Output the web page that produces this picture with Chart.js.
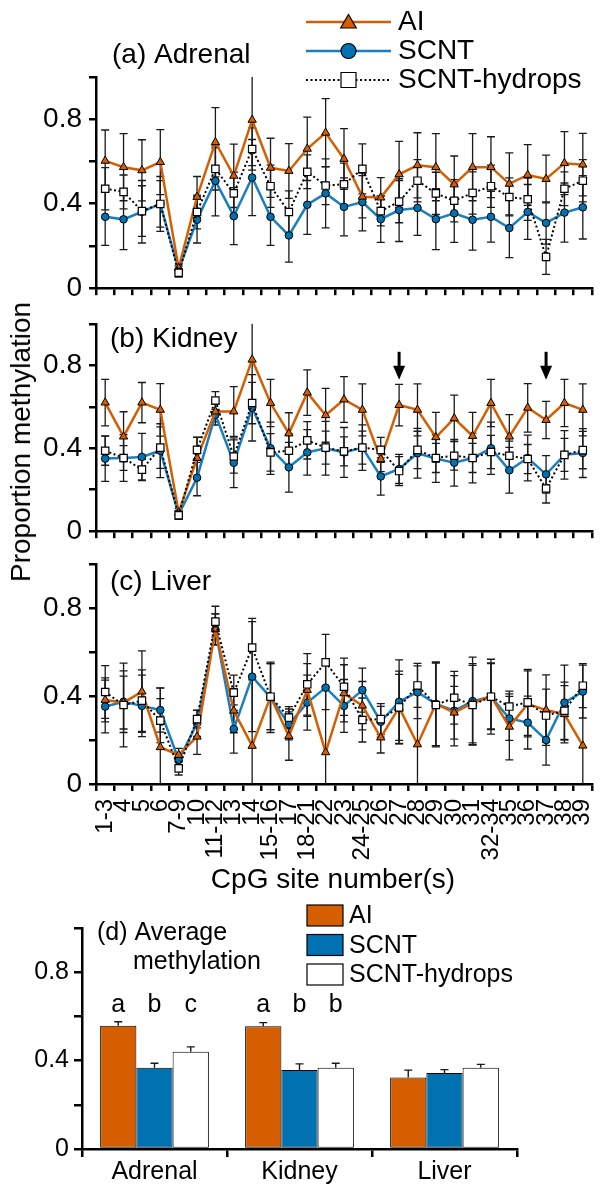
<!DOCTYPE html>
<html><head><meta charset="utf-8">
<script src="https://cdn.jsdelivr.net/npm/chart.js@4.4.0/dist/chart.umd.min.js"></script>
<style>
html,body{margin:0;padding:0;background:#fff;}
#wrap{position:relative;width:600px;height:1185px;overflow:hidden;font-family:'Liberation Sans',Arial,Helvetica,sans-serif;background:#fff;}
canvas{position:absolute;left:0;}
#ytitle{position:absolute;left:21px;top:442px;transform:translate(-50%,-50%) rotate(-90deg);font-size:28px;white-space:nowrap;color:#000;line-height:1;}
</style></head><body>
<div id="wrap">
<canvas id="cA" style="top:0px" width="600" height="312"></canvas>
<canvas id="cB" style="top:300px" width="600" height="255"></canvas>
<canvas id="cC" style="top:540px" width="600" height="361"></canvas>
<canvas id="cD" style="top:895px" width="600" height="290"></canvas>
<div id="ytitle">Proportion methylation</div>
</div>
<script>
// ---------- DATA ----------
const categories = ['1-3','4','5','6','7-9','10','11-12','13','14','15-16','17','18-21','22','23','24-25','26','27','28','29','30','31','32-34','35','36','37','38','39'];
const seriesNames = ['AI','SCNT','SCNT-hydrops'];
const yTickLabels = ['0','','0.4','','0.8',''];

// (a) Adrenal
const adrenalAI  = [0.603,0.573,0.558,0.597,0.095,0.432,0.691,0.532,0.797,0.570,0.555,0.660,0.736,0.612,0.433,0.429,0.539,0.582,0.573,0.491,0.573,0.573,0.494,0.536,0.517,0.592,0.585];
const adrenalSC  = [0.338,0.326,0.362,0.399,0.085,0.324,0.508,0.341,0.524,0.338,0.250,0.395,0.449,0.385,0.408,0.327,0.370,0.380,0.327,0.355,0.324,0.338,0.285,0.361,0.309,0.358,0.383];
const adrenalHY  = [0.471,0.456,0.365,0.399,0.073,0.361,0.565,0.449,0.659,0.483,0.361,0.551,0.486,0.492,0.565,0.365,0.410,0.509,0.449,0.414,0.451,0.483,0.432,0.421,0.148,0.471,0.509];
const adrenalAIerr = [0.146,0.159,0.145,0.154,0.02,0.097,0.164,0.15,0.217,0.14,0.13,0.15,0.162,0.144,0.10,0.095,0.156,0.154,0.159,0.135,0.159,0.144,0.147,0.144,0.113,0.149,0.148];
const adrenalSCerr = [0.135,0.143,0.148,0.11,0.02,0.11,0.166,0.135,0.18,0.135,0.127,0.14,0.163,0.137,0.137,0.11,0.149,0.13,0.144,0.138,0.144,0.12,0.14,0.13,0.1,0.14,0.15];
const adrenalHYerr = [0.10,0.08,0.12,0.13,0.02,0.08,0.1,0.1,0.1,0.1,0.1,0.08,0.09,0.1,0.118,0.07,0.1,0.1,0.1,0.1,0.1,0.1,0.09,0.1,0.083,0.08,0.1];

// (b) Kidney
const kidneyAI = [0.62,0.456,0.62,0.585,0.09,0.353,0.577,0.577,0.827,0.618,0.471,0.668,0.559,0.635,0.585,0.347,0.608,0.585,0.453,0.544,0.459,0.618,0.456,0.595,0.536,0.618,0.585];
const kidneySC = [0.35,0.353,0.358,0.388,0.08,0.258,0.562,0.33,0.595,0.40,0.308,0.38,0.40,0.38,0.403,0.264,0.30,0.376,0.35,0.33,0.353,0.40,0.294,0.353,0.274,0.368,0.377];
const kidneyHY = [0.388,0.353,0.297,0.403,0.077,0.392,0.63,0.36,0.618,0.38,0.388,0.438,0.403,0.385,0.403,0.392,0.29,0.392,0.353,0.364,0.353,0.382,0.364,0.348,0.206,0.368,0.391];
const kidneyAIerr = [0.112,0.12,0.097,0.127,0.02,0.1,0.05,0.12,0.2,0.114,0.1,0.11,0.13,0.11,0.125,0.06,0.1,0.125,0.12,0.112,0.114,0.114,0.106,0.117,0.09,0.114,0.125];
const kidneySCerr = [0.11,0.113,0.114,0.13,0.02,0.087,0.05,0.12,0.16,0.126,0.12,0.11,0.13,0.12,0.11,0.09,0.07,0.12,0.115,0.113,0.12,0.126,0.11,0.11,0.09,0.117,0.118];
const kidneyHYerr = [0.07,0.06,0.05,0.1,0.02,0.06,0.043,0.08,0.1,0.09,0.08,0.09,0.08,0.07,0.08,0.06,0.07,0.09,0.07,0.07,0.07,0.08,0.07,0.07,0.07,0.08,0.09];
const arrowSites = ['27','37'];

// (c) Liver
const liverAI = [0.382,0.37,0.42,0.167,0.132,0.215,0.703,0.333,0.173,0.397,0.218,0.427,0.144,0.412,0.356,0.211,0.348,0.18,0.364,0.324,0.367,0.40,0.26,0.364,0.336,0.317,0.174];
const liverSC = [0.352,0.374,0.355,0.336,0.109,0.276,0.703,0.25,0.488,0.394,0.271,0.37,0.438,0.355,0.427,0.283,0.374,0.417,0.364,0.333,0.377,0.397,0.298,0.279,0.2,0.37,0.42];
const liverHY = [0.418,0.359,0.379,0.288,0.071,0.295,0.738,0.415,0.62,0.397,0.302,0.453,0.553,0.442,0.291,0.295,0.348,0.448,0.359,0.392,0.359,0.397,0.352,0.371,0.311,0.333,0.447];
const liverAIerr = [0.1,0.12,0.185,0.27,0.03,0.08,0.07,0.1,0.30,0.15,0.11,0.12,0.30,0.13,0.11,0.07,0.165,0.25,0.19,0.12,0.18,0.15,0.15,0.15,0.16,0.13,0.25];
const liverSCerr = [0.12,0.14,0.14,0.1,0.03,0.06,0.07,0.11,0.25,0.16,0.07,0.125,0.1,0.12,0.1,0.07,0.19,0.12,0.19,0.16,0.2,0.17,0.1,0.12,0.114,0.17,0.12];
const liverHYerr = [0.12,0.19,0.14,0.1,0.03,0.04,0.07,0.08,0.133,0.15,0.05,0.14,0.127,0.13,0.1,0.07,0.15,0.1,0.19,0.12,0.18,0.15,0.07,0.15,0.12,0.13,0.1];

// (d) Average methylation
const tissues = ['Adrenal','Kidney','Liver'];
const avgAI = [0.558,0.555,0.324];
const avgSC = [0.368,0.357,0.344];
const avgHY = [0.440,0.368,0.368];
const avgAIerr = [0.018,0.017,0.033];
const avgSCerr = [0.020,0.028,0.015];
const avgHYerr = [0.022,0.020,0.015];
const lettersAI = ['a','a',''];
const lettersSC = ['b','b',''];
const lettersHY = ['c','b',''];

// ---------- STYLE ----------
const FONT = "'Liberation Sans', Arial, Helvetica, sans-serif";
const ORANGE = '#D55E00';
const BLUE = '#0072B2';
const LINEBLUE = '#1a7fc1';
Chart.defaults.font.family = FONT;
Chart.defaults.color = '#000';
Chart.defaults.animation = false;

// ---------- PLUGINS ----------
const errorPlugin = {
  id: 'errBars',
  beforeDatasetsDraw(chart, args, opts) {
    const ctx = chart.ctx, ca = chart.chartArea, ys = chart.scales.y;
    ctx.save();
    ctx.strokeStyle = '#1a1a1a';
    ctx.lineWidth = 1.3;
    const cap = 4;
    chart.data.datasets.forEach((ds, di) => {
      if (!ds.errors) return;
      const meta = chart.getDatasetMeta(di);
      meta.data.forEach((el, i) => {
        const v = ds.data[i], e = ds.errors[i];
        if (e == null) return;
        const x = el.x;
        let yTop = ys.getPixelForValue(v + e);
        let yBot = ys.getPixelForValue(v - e);
        const topClipped = yTop < ca.top, botClipped = yBot > ca.bottom;
        yTop = Math.max(yTop, ca.top); yBot = Math.min(yBot, ca.bottom);
        ctx.beginPath();
        ctx.moveTo(x, yTop); ctx.lineTo(x, yBot);
        if (!topClipped) { ctx.moveTo(x - cap, yTop); ctx.lineTo(x + cap, yTop); }
        if (!botClipped) { ctx.moveTo(x - cap, yBot); ctx.lineTo(x + cap, yBot); }
        ctx.stroke();
      });
    });
    ctx.restore();
  }
};

const textPlugin = {
  id: 'panelText',
  afterDraw(chart, args, opts) {
    const ctx = chart.ctx, ca = chart.chartArea;
    (opts.items || []).forEach(it => {
      ctx.save();
      ctx.font = it.size + 'px ' + FONT;
      ctx.fillStyle = '#000';
      ctx.textAlign = it.align || 'left';
      ctx.textBaseline = 'middle';
      ctx.fillText(it.text, ca.left + it.dx, ca.top + it.dy);
      ctx.restore();
    });
  }
};

function drawMarker(ctx, type, x, y, r, fill) {
  ctx.save();
  ctx.fillStyle = fill; ctx.strokeStyle = '#000'; ctx.lineWidth = 1.2; ctx.setLineDash([]);
  ctx.beginPath();
  if (type === 'triangle') {
    ctx.moveTo(x, y - r);
    ctx.lineTo(x + r * 0.866, y + r * 0.5);
    ctx.lineTo(x - r * 0.866, y + r * 0.5);
    ctx.closePath();
  } else if (type === 'circle') {
    ctx.arc(x, y, r, 0, Math.PI * 2);
  } else {
    ctx.rect(x - r, y - r, 2 * r, 2 * r);
  }
  ctx.fill(); ctx.stroke();
  ctx.restore();
}

const lineLegendPlugin = {
  id: 'lineLegend',
  afterDraw(chart, args, opts) {
    if (!opts.show) return;
    const ctx = chart.ctx;
    const styles = [
      {color: ORANGE, dash: [], marker: 'triangle', r: 9, fill: ORANGE, w: 2.5},
      {color: LINEBLUE, dash: [], marker: 'circle', r: 7.5, fill: BLUE, w: 2.5},
      {color: '#000', dash: [2, 2.5], marker: 'rect', r: 7.5, fill: '#fff', w: 2}
    ];
    seriesNames.forEach((name, i) => {
      const y = opts.y0 + i * opts.dy, s = styles[i];
      ctx.save();
      ctx.strokeStyle = s.color; ctx.lineWidth = s.w; ctx.setLineDash(s.dash);
      ctx.beginPath(); ctx.moveTo(opts.x0, y); ctx.lineTo(opts.x1, y); ctx.stroke();
      ctx.restore();
      drawMarker(ctx, s.marker, (opts.x0 + opts.x1) / 2, y + (s.marker === 'triangle' ? 1.5 : 0), s.r, s.fill);
      ctx.save();
      ctx.font = opts.size + 'px ' + FONT; ctx.fillStyle = '#000';
      ctx.textAlign = 'left'; ctx.textBaseline = 'middle';
      ctx.fillText(name, opts.tx, y);
      ctx.restore();
    });
  }
};

const arrowPlugin = {
  id: 'arrows',
  afterDatasetsDraw(chart, args, opts) {
    if (!opts.sites) return;
    const ctx = chart.ctx, xs = chart.scales.x, ys = chart.scales.y;
    opts.sites.forEach(site => {
      const idx = categories.indexOf(site);
      const x = xs.getPixelForValue(idx);
      const y0 = ys.getPixelForValue(opts.from), y1 = ys.getPixelForValue(opts.to);
      const head = 14;
      ctx.save();
      ctx.strokeStyle = '#000'; ctx.fillStyle = '#000'; ctx.lineWidth = 3;
      ctx.beginPath(); ctx.moveTo(x, y0); ctx.lineTo(x, y1 - head + 1); ctx.stroke();
      ctx.beginPath(); ctx.moveTo(x - 6, y1 - head); ctx.lineTo(x + 6, y1 - head); ctx.lineTo(x, y1); ctx.closePath(); ctx.fill();
      ctx.restore();
    });
  }
};

const barExtrasPlugin = {
  id: 'barExtras',
  afterDatasetsDraw(chart, args, opts) {
    const ctx = chart.ctx, ys = chart.scales.y;
    ctx.save();
    ctx.strokeStyle = '#1a1a1a'; ctx.lineWidth = 1.4;
    chart.data.datasets.forEach((ds, di) => {
      const meta = chart.getDatasetMeta(di);
      meta.data.forEach((el, i) => {
        const v = ds.data[i], e = ds.errors[i];
        const x = el.x, yTop = ys.getPixelForValue(v + e), yB = ys.getPixelForValue(v);
        ctx.beginPath(); ctx.moveTo(x, yB); ctx.lineTo(x, yTop);
        ctx.moveTo(x - 4, yTop); ctx.lineTo(x + 4, yTop); ctx.stroke();
        if (ds.letters && ds.letters[i]) {
          ctx.save();
          ctx.font = opts.letterSize + 'px ' + FONT; ctx.fillStyle = '#000';
          ctx.textAlign = 'center'; ctx.textBaseline = 'middle';
          ctx.fillText(ds.letters[i], x, ys.getPixelForValue(opts.letterY));
          ctx.restore();
        }
      });
    });
    ctx.restore();
    // legend
    const boxes = [{fill: ORANGE}, {fill: BLUE}, {fill: '#fff'}];
    seriesNames.forEach((name, i) => {
      const y = opts.legY0 + i * opts.legDy;
      ctx.save();
      ctx.fillStyle = boxes[i].fill; ctx.strokeStyle = '#000'; ctx.lineWidth = 1.2;
      ctx.fillRect(opts.legX, y - 10.5, 36, 21); ctx.strokeRect(opts.legX, y - 10.5, 36, 21);
      ctx.font = opts.legSize + 'px ' + FONT; ctx.fillStyle = '#000';
      ctx.textAlign = 'left'; ctx.textBaseline = 'middle';
      ctx.fillText(name, opts.legX + 42, y + 1);
      ctx.restore();
    });
  }
};

// ---------- BUILDERS ----------
function yAxis(fontSize, tickLen, pad, width) {
  return {
    min: 0, max: 1,
    border: {display: true, color: '#000', width: 2.5},
    grid: {drawOnChartArea: false, drawTicks: true, tickLength: tickLen, color: '#000', lineWidth: 2.5},
    ticks: {stepSize: 0.2, autoSkip: false, padding: pad, font: {size: fontSize}, color: '#000',
            callback: (v, i) => yTickLabels[i]},
    afterFit: s => { s.width = width; }
  };
}

function lineDatasets(ai, sc, hy, aiE, scE, hyE) {
  return [
    {label: seriesNames[0], data: ai, errors: aiE, borderColor: ORANGE, backgroundColor: ORANGE,
     pointStyle: 'triangle', pointRadius: 4.8, pointBackgroundColor: ORANGE, pointBorderColor: '#000',
     pointBorderWidth: 1, borderWidth: 2.5, tension: 0, order: 2},
    {label: seriesNames[1], data: sc, errors: scE, borderColor: LINEBLUE, backgroundColor: BLUE,
     pointStyle: 'circle', pointRadius: 3.8, pointBackgroundColor: BLUE, pointBorderColor: '#000',
     pointBorderWidth: 1, borderWidth: 2.5, tension: 0, order: 3},
    {label: seriesNames[2], data: hy, errors: hyE, borderColor: '#000', backgroundColor: '#fff',
     borderDash: [2, 2.5], pointStyle: 'rect', pointRadius: 5.2, pointBackgroundColor: '#fff',
     pointBorderColor: '#000', pointBorderWidth: 1.2, borderWidth: 2, tension: 0, order: 1}
  ];
}

function lineChart(id, datasets, padding, showLabels, xHeight, pluginOpts) {
  return new Chart(document.getElementById(id), {
    type: 'line',
    data: {labels: categories, datasets},
    options: {
      responsive: false, animation: false,
      layout: {padding},
      plugins: Object.assign({legend: {display: false}, tooltip: {enabled: false}}, pluginOpts),
      scales: {
        x: {type: 'category', offset: true,
            grid: {offset: true, drawOnChartArea: false, drawTicks: true, tickLength: 7, color: '#000', lineWidth: 2.5},
            border: {display: true, color: '#000', width: 2.5},
            ticks: {display: showLabels, autoSkip: false, maxRotation: 90, minRotation: 90, padding: 8,
                    font: {size: 24}, color: '#000'},
            afterFit: s => { s.height = xHeight; s.paddingLeft = 0; s.paddingRight = 0; }},
        y: yAxis(28, 7, 7, 96)
      }
    },
    plugins: [errorPlugin, textPlugin, lineLegendPlugin, arrowPlugin]
  });
}

// (a)
lineChart('cA', lineDatasets(adrenalAI, adrenalSC, adrenalHY, adrenalAIerr, adrenalSCerr, adrenalHYerr),
  {top: 77, bottom: 5, left: 0, right: 8}, false, 10,
  {panelText: {items: [{text: '(a) Adrenal', dx: 16, dy: -22, size: 28}]},
   lineLegend: {show: true, x0: 306, x1: 391, tx: 398, y0: 22, dy: 29, size: 28}});

// (b)
lineChart('cB', lineDatasets(kidneyAI, kidneySC, kidneyHY, kidneyAIerr, kidneySCerr, kidneyHYerr),
  {top: 22, bottom: 3, left: 0, right: 8}, false, 10,
  {panelText: {items: [{text: '(b) Kidney', dx: 14, dy: 15, size: 28}]},
   arrows: {sites: arrowSites, from: 0.865, to: 0.73}});

// (c)
lineChart('cC', lineDatasets(liverAI, liverSC, liverHY, liverAIerr, liverSCerr, liverHYerr),
  {top: 24, bottom: 0, left: 0, right: 8}, true, 117,
  {panelText: {items: [{text: '(c) Liver', dx: 14, dy: 18, size: 28},
                       {text: 'CpG site number(s)', dx: 237, dy: 316, size: 28, align: 'center'}]}});

// (d)
new Chart(document.getElementById('cD'), {
  type: 'bar',
  data: {
    labels: tissues,
    datasets: [
      {label: seriesNames[0], data: avgAI, errors: avgAIerr, letters: lettersAI, backgroundColor: ORANGE, borderColor: '#000', borderWidth: 1, borderSkipped: false},
      {label: seriesNames[1], data: avgSC, errors: avgSCerr, letters: lettersSC, backgroundColor: BLUE, borderColor: '#000', borderWidth: 1, borderSkipped: false},
      {label: seriesNames[2], data: avgHY, errors: avgHYerr, letters: lettersHY, backgroundColor: '#fff', borderColor: '#000', borderWidth: 1, borderSkipped: false}
    ]
  },
  options: {
    responsive: false, animation: false,
    layout: {padding: {top: 33, bottom: 0, left: 0, right: 83}},
    datasets: {bar: {categoryPercentage: 0.75, barPercentage: 1.0}},
    plugins: {
      legend: {display: false}, tooltip: {enabled: false},
      panelText: {items: [{text: '(d) Average', dx: 15, dy: 5, size: 25},
                          {text: 'methylation', dx: 51, dy: 34, size: 25}]},
      barExtras: {letterSize: 25, letterY: 0.652, legX: 307, legY0: 20.5, legDy: 29.5, legSize: 25}
    },
    scales: {
      x: {offset: true,
          grid: {offset: true, drawOnChartArea: false, drawTicks: true, tickLength: 8, color: '#000', lineWidth: 2.5},
          border: {display: true, color: '#000', width: 2.5},
          ticks: {padding: 0, font: {size: 25}, color: '#000', maxRotation: 0},
          afterFit: s => { s.height = 36; }},
      y: yAxis(25, 8, 5, 82)
    }
  },
  plugins: [textPlugin, barExtrasPlugin]
});
</script>
</body></html>
